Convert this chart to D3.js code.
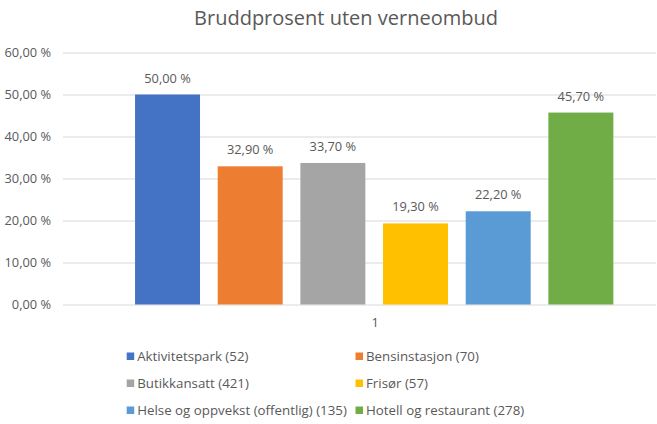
<!DOCTYPE html>
<html>
<head>
<meta charset="utf-8">
<script src="https://cdn.jsdelivr.net/npm/d3@7"></script>
<style>
  html, body { margin: 0; padding: 0; background: #fff; }
  svg { display: block; }
  text { font-family: "Open Sans", "Noto Sans", sans-serif; fill: #595959; }
</style>
</head>
<body>
<svg id="chart" width="657" height="424"></svg>
<script>
const title = "Bruddprosent uten verneombud";
const seriesNames = ["Aktivitetspark (52)", "Bensinstasjon (70)", "Butikkansatt (421)", "Frisør (57)", "Helse og oppvekst (offentlig) (135)", "Hotell og restaurant (278)"];
const seriesValues = [50.0, 32.9, 33.7, 19.3, 22.2, 45.7];
const seriesColors = ["#4472C4", "#ED7D31", "#A5A5A5", "#FFC000", "#5B9BD5", "#70AD47"];
const categoryLabel = "1";
const yTickValues = [0, 10, 20, 30, 40, 50, 60];

const locale = d3.formatLocale({ decimal: ",", thousands: " ", grouping: [3], currency: ["", ""] });
const fmt = v => locale.format(".2f")(v) + " %";

const svg = d3.select("#chart");

const plotLeft = 63, plotRight = 656, plotTop = 52.5, plotBottom = 304.5;

const y = d3.scaleLinear().domain([0, 60]).range([plotBottom, plotTop]);
const x = d3.scaleBand().domain(seriesNames).range([126.2, 622.2]).paddingInner(0.214).paddingOuter(0.107);

// title
svg.append("text")
  .attr("x", 346).attr("y", 25)
  .attr("text-anchor", "middle")
  .attr("font-size", 20)
  .text(title);

// gridlines + y labels via axis
const yAxis = d3.axisLeft(y).tickValues(yTickValues).tickSize(-(plotRight - plotLeft)).tickFormat(fmt).tickPadding(12);
const gy = svg.append("g").attr("transform", `translate(${plotLeft},0)`).call(yAxis);
gy.select(".domain").remove();
gy.selectAll(".tick line").attr("stroke", "#D9D9D9").attr("stroke-width", 1);
gy.selectAll(".tick text").attr("font-size", 12.8).attr("fill", "#595959")
  .attr("font-family", '"Open Sans", sans-serif').attr("dy", "0.35em").attr("x", -12);

// bars
svg.append("g").selectAll("rect").data(seriesNames).join("rect")
  .attr("x", d => x(d))
  .attr("width", x.bandwidth())
  .attr("y", (d, i) => y(seriesValues[i]))
  .attr("height", (d, i) => y(0) - y(seriesValues[i]))
  .attr("fill", (d, i) => seriesColors[i]);

// data labels
svg.append("g").selectAll("text").data(seriesNames).join("text")
  .attr("x", d => x(d) + x.bandwidth() / 2)
  .attr("y", (d, i) => y(seriesValues[i]) - 12)
  .attr("text-anchor", "middle")
  .attr("font-size", 12.8)
  .attr("fill", "#404040")
  .text((d, i) => fmt(seriesValues[i]));

// category label
svg.append("text")
  .attr("x", (x.range()[0] + x.range()[1]) / 2 + 1)
  .attr("y", 327)
  .attr("text-anchor", "middle")
  .attr("font-size", 12.8)
  .text(categoryLabel);

// legend
const legendCols = [126.7, 355.5];
const legendRows = [361, 388, 415];
const lg = svg.append("g").selectAll("g").data(seriesNames).join("g")
  .attr("transform", (d, i) => `translate(${legendCols[i % 2]},${legendRows[Math.floor(i / 2)]})`);
lg.append("rect").attr("x", 0).attr("y", -8.5).attr("width", 7.5).attr("height", 7.5)
  .attr("fill", (d, i) => seriesColors[i]);
lg.append("text").attr("x", 10.5).attr("y", 0).attr("font-size", 13.3).text(d => d);
</script>
</body>
</html>
